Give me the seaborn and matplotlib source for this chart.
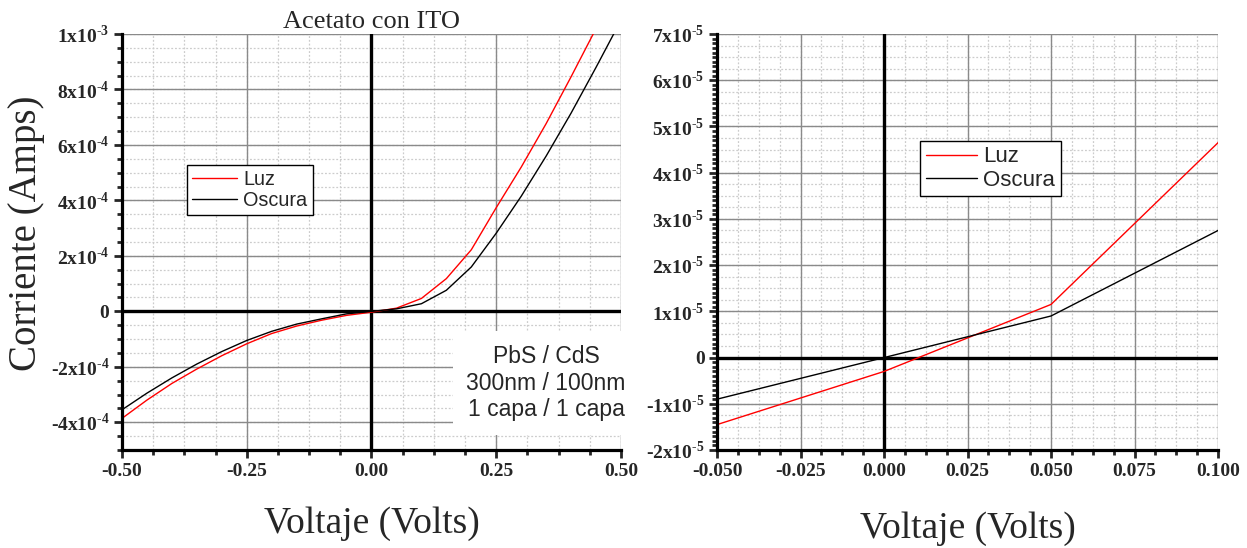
import numpy as np
import pandas as pd
import seaborn as sns
import matplotlib
matplotlib.use("Agg")
import matplotlib.pyplot as plt
from matplotlib.ticker import MultipleLocator, FuncFormatter, FormatStrFormatter

# datos (V, A)
voltaje = [-0.50, -0.45, -0.40, -0.35, -0.30, -0.25, -0.20, -0.15, -0.10, -0.05, 0.00,
           0.05, 0.10, 0.15, 0.20, 0.25, 0.30, 0.35, 0.40, 0.45, 0.50]
luz = [-3.86e-4, -3.20e-4, -2.60e-4, -2.08e-4, -1.60e-4, -1.17e-4, -0.80e-4, -0.53e-4,
       -0.32e-4, -1.45e-5, -0.30e-5, 1.15e-5, 4.65e-5, 1.18e-4, 2.22e-4, 3.74e-4,
       5.20e-4, 6.77e-4, 8.46e-4, 1.02e-3, 1.20e-3]
oscura = [-3.55e-4, -2.95e-4, -2.40e-4, -1.90e-4, -1.45e-4, -1.05e-4, -0.72e-4, -0.46e-4,
          -0.27e-4, -0.90e-5, 0.0, 0.90e-5, 2.75e-5, 0.76e-4, 1.60e-4, 2.82e-4,
          4.15e-4, 5.60e-4, 7.15e-4, 8.80e-4, 1.05e-3]
series = ["Luz", "Oscura"]
colores = {"Luz": "#ff0000", "Oscura": "#000000"}

df = pd.DataFrame({
    "V": voltaje * 2,
    "I": luz + oscura,
    "serie": ["Luz"] * len(voltaje) + ["Oscura"] * len(voltaje),
})

sns.set_style("white")
plt.rcParams["font.family"] = ["Liberation Serif", "DejaVu Serif"]
plt.rcParams["mathtext.fontset"] = "custom"
plt.rcParams["mathtext.rm"] = "Liberation Serif"
plt.rcParams["mathtext.bf"] = "Liberation Serif:bold"
plt.rcParams["axes.unicode_minus"] = False


def fmt_y(v, pos):
    if abs(v) < 1e-12:
        return "0"
    e = int(np.floor(np.log10(abs(v)) + 1e-9))
    m = int(round(v / 10 ** e))
    return "%dx10$^{\\mathbf{\u2010%d}}$" % (m, -e)


fig = plt.figure(figsize=(12.47, 5.48), dpi=100)
ax1 = fig.add_axes([0.0978, 0.1788, 0.4002, 0.7591])
ax2 = fig.add_axes([0.575, 0.1788, 0.4018, 0.7591])

conf = [
    (ax1, (-0.5, 0.5), (-5e-4, 1e-3), 0.25, 0.0625, 2e-4, 0.5e-4, 0.5e-4, "%.2f",
     (0.130, 0.685), 14.3, -0.135),
    (ax2, (-0.05, 0.1), (-2e-5, 7e-5), 0.025, 0.00625, 1e-5, 0.1e-5, 0.25e-5, "%.3f",
     (0.405, 0.743), 16, -0.148),
]

for ax, xl, yl, xmaj, xmin, ymaj, ymin_t, ymin_g, xf, legpos, legfs, xlab_y in conf:
    ax.set_axisbelow(True)
    sns.lineplot(data=df, x="V", y="I", hue="serie", hue_order=series, palette=colores,
                 lw=1.0, ax=ax, zorder=4, sort=False, estimator=None)
    ax.set_xlim(*xl)
    ax.set_ylim(*yl)
    ax.xaxis.set_major_locator(MultipleLocator(xmaj))
    ax.xaxis.set_minor_locator(MultipleLocator(xmin))
    ax.yaxis.set_major_locator(MultipleLocator(ymaj))
    ax.yaxis.set_minor_locator(MultipleLocator(ymin_t))
    ax.xaxis.set_major_formatter(FormatStrFormatter(xf))
    ax.yaxis.set_major_formatter(FuncFormatter(fmt_y))

    # rejilla
    ax.grid(which="major", color="#8a8a8a", lw=1.0, ls="-")
    for gx in np.arange(xl[0], xl[1] + 1e-9, xmin):
        ax.axvline(gx, color="#cccccc", lw=0.9, ls=(0, (1.5, 1.5)), zorder=0.3)
    for gy in np.arange(yl[0], yl[1] + 1e-12, ymin_g):
        ax.axhline(gy, color="#cccccc", lw=0.9, ls=(0, (1.5, 1.5)), zorder=0.3)
    ax.axhline(0, color="black", lw=2.4, zorder=3)
    ax.axvline(0, color="black", lw=2.4, zorder=3)

    for s in ["top", "right"]:
        ax.spines[s].set_visible(False)
    for s in ["left", "bottom"]:
        ax.spines[s].set_linewidth(2.3)
        ax.spines[s].set_color("black")
        ax.spines[s].set_zorder(5)
    ax.tick_params(which="major", direction="out", length=6, width=2, pad=3,
                   left=True, bottom=True, labelsize=14)
    ax.tick_params(which="minor", direction="out", length=3.5, width=2,
                   left=True, bottom=True)
    for lab in ax.get_xticklabels() + ax.get_yticklabels():
        lab.set_fontweight("bold")

    handles, labels = ax.get_legend_handles_labels()
    leg = ax.legend(handles, labels, loc="upper left", bbox_to_anchor=legpos,
                    prop={"family": "Liberation Sans", "size": legfs},
                    frameon=True, fancybox=False, framealpha=1, edgecolor="black",
                    borderpad=0.25, handlelength=2.3, handletextpad=0.3,
                    labelspacing=0.1, borderaxespad=0)
    leg.get_frame().set_linewidth(1.0)
    leg.set_zorder(6)

    ax.set_xlabel("Voltaje (Volts)", fontsize=27)
    ax.xaxis.set_label_coords(0.5, xlab_y)
    ax.set_ylabel("")

ax1.set_ylabel("Corriente (Amps)", fontsize=28)
ax1.yaxis.set_label_coords(-0.155, 0.52)
ax1.set_title("Acetato con ITO", fontsize=19, pad=4)

ax1.text(0.85, 0.161, "PbS / CdS\n300nm / 100nm\n1 capa / 1 capa",
         transform=ax1.transAxes, ha="center", va="center", fontsize=16.5,
         family="Liberation Sans", linespacing=1.2, zorder=2,
         bbox=dict(boxstyle="square,pad=0.6", fc="white", ec="none"), clip_on=False)

fig.savefig("out.png", dpi=100)
